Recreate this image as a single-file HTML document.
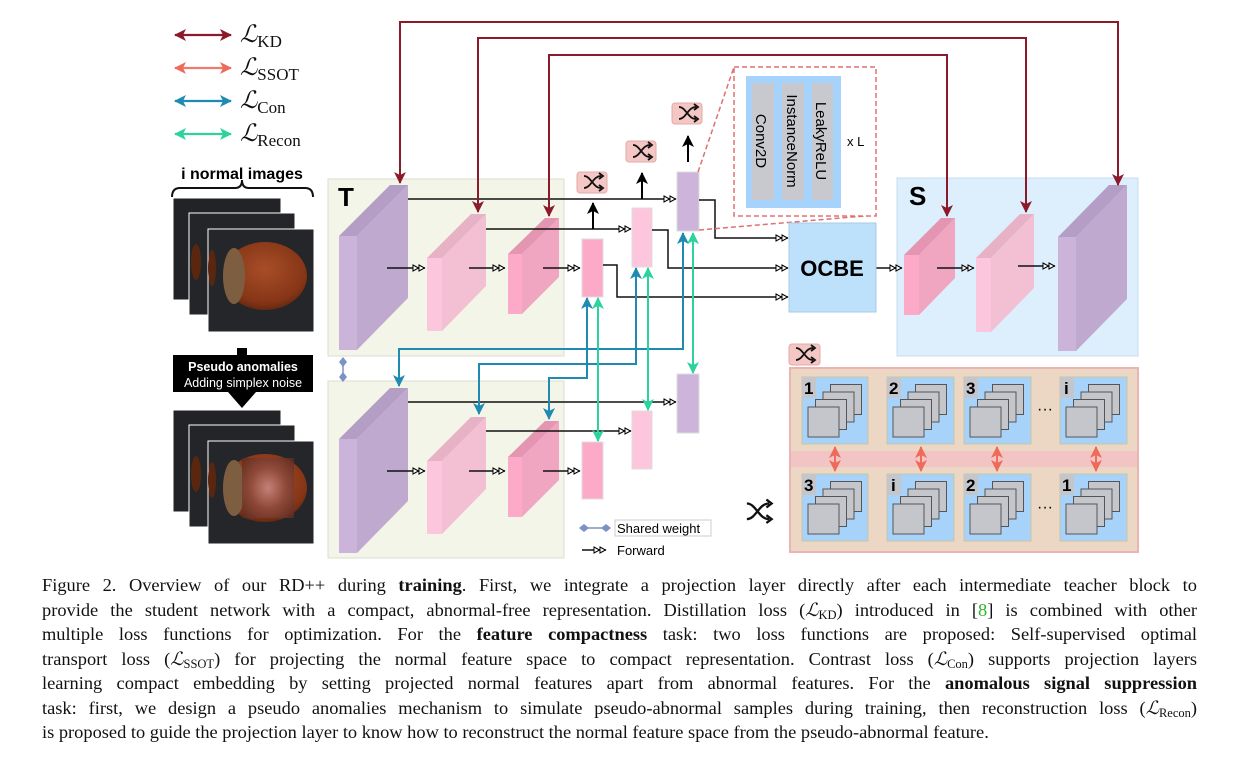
<!DOCTYPE html>
<html><head><meta charset="utf-8"><style>
body{margin:0;background:#fff;width:1247px;height:780px;overflow:hidden;position:relative;font-family:"Liberation Sans",sans-serif}
svg{position:absolute;left:0;top:0}
.cap{position:absolute;left:42px;width:1155px;font-family:"Liberation Serif",serif;font-size:18.4px;color:#111;white-space:nowrap}
.j{text-align:justify;text-align-last:justify;white-space:normal}
.m{font-style:italic}
sub{font-size:12.5px;vertical-align:-3px;line-height:0}
</style></head><body>
<svg width="1247" height="570" viewBox="0 0 1247 570" font-family="Liberation Sans, sans-serif">
<defs>
<marker id="ff" markerUnits="userSpaceOnUse" markerWidth="16" markerHeight="10" refX="13" refY="4" orient="auto"><path d="M1,1 L6.5,4 L1,7 Z M7,1 L12.5,4 L7,7 Z" fill="#fff" stroke="#000" stroke-width="1"/></marker>
<marker id="kd" markerUnits="userSpaceOnUse" markerWidth="14" markerHeight="14" refX="11" refY="6" orient="auto-start-reverse"><path d="M0,0 L12,6 L0,12 L3,6 Z" fill="#8b1a2a"/></marker>
<marker id="ss" markerUnits="userSpaceOnUse" markerWidth="14" markerHeight="14" refX="11" refY="6" orient="auto-start-reverse"><path d="M0,0 L12,6 L0,12 L3,6 Z" fill="#ee6b5b"/></marker>
<marker id="cn" markerUnits="userSpaceOnUse" markerWidth="14" markerHeight="14" refX="11" refY="6" orient="auto-start-reverse"><path d="M0,0 L12,6 L0,12 L3,6 Z" fill="#1f8bb2"/></marker>
<marker id="rc" markerUnits="userSpaceOnUse" markerWidth="14" markerHeight="14" refX="11" refY="6" orient="auto-start-reverse"><path d="M0,0 L12,6 L0,12 L3,6 Z" fill="#2dd39f"/></marker>
<marker id="bk" markerUnits="userSpaceOnUse" markerWidth="14" markerHeight="14" refX="11" refY="6" orient="auto"><path d="M0,0 L12,6 L0,12 L3,6 Z" fill="#000"/></marker>
<marker id="dm" markerUnits="userSpaceOnUse" markerWidth="10" markerHeight="10" refX="5" refY="5" orient="auto"><path d="M0,5 L5,1 L10,5 L5,9 Z" fill="#7b93c4"/></marker>
<g id="shuf"><path d="M3,5 C10,5 12,17 20,17 M3,17 C10,17 12,5 20,5" fill="none" stroke="#111" stroke-width="1.8"/><path d="M18,2 L22,5 L18,8 M18,14 L22,17 L18,20" fill="none" stroke="#111" stroke-width="1.8"/></g>
<radialGradient id="nut" cx="0.5" cy="0.4" r="0.7"><stop offset="0" stop-color="#a84e28"/><stop offset="0.7" stop-color="#853516"/><stop offset="1" stop-color="#4a1d0c"/></radialGradient>
<radialGradient id="noise" cx="0.5" cy="0.5" r="0.7"><stop offset="0" stop-color="#c98a84"/><stop offset="0.5" stop-color="#8d4a3c"/><stop offset="1" stop-color="#5a2a20"/></radialGradient>
</defs>

<g stroke-width="2.2">
<line x1="175" y1="35" x2="231" y2="35" stroke="#8b1a2a" marker-start="url(#kd)" marker-end="url(#kd)"/>
<line x1="175" y1="68" x2="231" y2="68" stroke="#ee7b6b" marker-start="url(#ss)" marker-end="url(#ss)"/>
<line x1="175" y1="101" x2="231" y2="101" stroke="#1f8bb2" marker-start="url(#cn)" marker-end="url(#cn)"/>
<line x1="175" y1="134" x2="231" y2="134" stroke="#2dd39f" marker-start="url(#rc)" marker-end="url(#rc)"/>
</g>
<g font-family="Liberation Serif, serif" fill="#111">
<text x="240" y="42" font-size="24" font-style="italic">ℒ<tspan font-size="17" font-style="normal" dy="5">KD</tspan></text>
<text x="240" y="75" font-size="24" font-style="italic">ℒ<tspan font-size="17" font-style="normal" dy="5">SSOT</tspan></text>
<text x="240" y="108" font-size="24" font-style="italic">ℒ<tspan font-size="17" font-style="normal" dy="5">Con</tspan></text>
<text x="240" y="141" font-size="24" font-style="italic">ℒ<tspan font-size="17" font-style="normal" dy="5">Recon</tspan></text>
</g>
<text x="242" y="179" font-size="16" font-weight="bold" text-anchor="middle">i normal images</text>
<path d="M172,197 Q172,188 180,188 L235,188 Q242,188 242,180 Q242,188 249,188 L305,188 Q313,188 313,197" fill="none" stroke="#111" stroke-width="2"/>

<rect x="173" y="198" width="108" height="102" fill="#222327" stroke="#fff"/>
<rect x="189" y="213" width="106" height="102" fill="#242529" stroke="#fff"/>
<ellipse cx="196" cy="262" rx="5" ry="18" fill="#5a2610"/>
<rect x="208" y="229" width="106" height="103" fill="#25262a" stroke="#fff"/>
<ellipse cx="212" cy="268" rx="4" ry="18" fill="#5a2610"/>
<ellipse cx="265" cy="276" rx="42" ry="34" fill="url(#nut)"/>
<ellipse cx="234" cy="276" rx="11" ry="28" fill="#7e5e40"/>
<rect x="173" y="355" width="140" height="37" fill="#000"/>
<text x="243" y="371" font-size="12.5" font-weight="bold" fill="#fff" text-anchor="middle">Pseudo anomalies</text>
<text x="243" y="387" font-size="12.5" fill="#fff" text-anchor="middle">Adding simplex noise</text>
<rect x="237" y="348" width="10" height="8" fill="#000"/>
<path d="M228,392 L256,392 L242,408 Z" fill="#000"/>
<rect x="173" y="410" width="108" height="102" fill="#222327" stroke="#fff"/>
<rect x="189" y="425" width="106" height="102" fill="#242529" stroke="#fff"/>
<ellipse cx="196" cy="474" rx="5" ry="18" fill="#5a2610"/>
<rect x="208" y="441" width="106" height="103" fill="#25262a" stroke="#fff"/>
<ellipse cx="212" cy="480" rx="4" ry="18" fill="#5a2610"/>
<ellipse cx="265" cy="488" rx="42" ry="34" fill="url(#nut)"/>
<ellipse cx="234" cy="488" rx="11" ry="28" fill="#7e5e40"/>
<rect x="242" y="458" width="52" height="60" fill="url(#noise)" opacity="0.85"/>

<rect x="328" y="179" width="236" height="177" fill="#f3f5e8" stroke="#dcdcd0"/>
<rect x="328" y="381" width="236" height="177" fill="#f3f5e8" stroke="#dcdcd0"/>
<text x="338" y="206" font-size="26" font-weight="bold">T</text>
<rect x="897" y="178" width="241" height="178" fill="#ddeefc" stroke="#c8dcee"/>
<text x="909" y="205" font-size="26" font-weight="bold">S</text>

<g>
<rect x="339" y="236" width="18" height="114" fill="#cbb3d9"/><polygon points="339,236 390,185 408,185 357,236" fill="#b59ec5"/><polygon points="357,236 408,185 408,298 357,350" fill="#c0a9cf"/>
<rect x="427" y="258" width="15" height="73" fill="#fcc6dc"/><polygon points="427,258 471,214 486,214 442,258" fill="#e8b2c6"/><polygon points="442,258 486,214 486,286 442,331" fill="#f2bfd3"/>
<rect x="508" y="254" width="14" height="60" fill="#fcaac8"/><polygon points="508,254 545,218 559,218 522,254" fill="#e495b1"/><polygon points="522,254 559,218 559,277 522,314" fill="#f0a5c0"/>
<rect x="339" y="439" width="18" height="114" fill="#cbb3d9"/><polygon points="339,439 390,388 408,388 357,439" fill="#b59ec5"/><polygon points="357,439 408,388 408,501 357,553" fill="#c0a9cf"/>
<rect x="427" y="461" width="15" height="73" fill="#fcc6dc"/><polygon points="427,461 471,417 486,417 442,461" fill="#e8b2c6"/><polygon points="442,461 486,417 486,489 442,534" fill="#f2bfd3"/>
<rect x="508" y="457" width="14" height="60" fill="#fcaac8"/><polygon points="508,457 545,421 559,421 522,457" fill="#e495b1"/><polygon points="522,457 559,421 559,480 522,517" fill="#f0a5c0"/>
<rect x="904" y="255" width="15" height="60" fill="#fcaac8"/><polygon points="904,255 941,218 955,218 919,255" fill="#e495b1"/><polygon points="919,255 955,218 955,278 919,315" fill="#f0a5c0"/>
<rect x="976" y="258" width="15" height="74" fill="#fcc6dc"/><polygon points="976,258 1020,214 1034,214 991,258" fill="#e8b2c6"/><polygon points="991,258 1034,214 1034,288 991,332" fill="#f2bfd3"/>
<rect x="1058" y="237" width="18" height="114" fill="#cbb3d9"/><polygon points="1058,237 1109,185 1127,185 1076,237" fill="#b59ec5"/><polygon points="1076,237 1127,185 1127,299 1076,351" fill="#c0a9cf"/>
</g>

<g stroke="#ddd" stroke-width="1">
<rect x="582" y="239" width="21" height="58" fill="#fdaac9"/>
<rect x="632" y="208" width="20" height="59" fill="#fdc6dc"/>
<rect x="677" y="172" width="22" height="59" fill="#cdb4da"/>
<rect x="582" y="442" width="21" height="57" fill="#fdaac9"/>
<rect x="632" y="411" width="20" height="58" fill="#fdc6dc"/>
<rect x="677" y="374" width="22" height="59" fill="#cdb4da"/>
</g>

<g stroke="#111" stroke-width="1.5" fill="none">
<line x1="387" y1="268" x2="425" y2="268" marker-end="url(#ff)"/>
<line x1="469" y1="268" x2="505" y2="268" marker-end="url(#ff)"/>
<line x1="543" y1="268" x2="580" y2="268" marker-end="url(#ff)"/>
<line x1="408" y1="199" x2="676" y2="199" marker-end="url(#ff)"/>
<line x1="486" y1="229" x2="631" y2="229" marker-end="url(#ff)"/>
<line x1="387" y1="471" x2="425" y2="471" marker-end="url(#ff)"/>
<line x1="469" y1="471" x2="505" y2="471" marker-end="url(#ff)"/>
<line x1="543" y1="471" x2="580" y2="471" marker-end="url(#ff)"/>
<line x1="408" y1="402" x2="676" y2="402" marker-end="url(#ff)"/>
<line x1="486" y1="431" x2="631" y2="431" marker-end="url(#ff)"/>
<path d="M699,200 H715 V238 H788" marker-end="url(#ff)"/>
<path d="M652,230 H668 V268 H788" marker-end="url(#ff)"/>
<path d="M603,265 H617 V297 H788" marker-end="url(#ff)"/>
<line x1="876" y1="268" x2="902" y2="268" marker-end="url(#ff)"/>
<line x1="937" y1="268" x2="974" y2="268" marker-end="url(#ff)"/>
<line x1="1018" y1="266" x2="1055" y2="266" marker-end="url(#ff)"/>
</g>
<g stroke="#000" stroke-width="2">
<line x1="593" y1="229" x2="593" y2="203" marker-end="url(#bk)"/>
<line x1="642" y1="199" x2="642" y2="173" marker-end="url(#bk)"/>
<line x1="688" y1="162" x2="688" y2="136" marker-end="url(#bk)"/>
</g>

<g>
<rect x="577" y="172" width="30" height="21" rx="3" fill="#f4c7c5" stroke="#e3aaa8"/><use href="#shuf" transform="translate(581,171)"/>
<rect x="626" y="141" width="30" height="21" rx="3" fill="#f4c7c5" stroke="#e3aaa8"/><use href="#shuf" transform="translate(630,140)"/>
<rect x="672" y="103" width="30" height="21" rx="3" fill="#f4c7c5" stroke="#e3aaa8"/><use href="#shuf" transform="translate(676,102)"/>
<rect x="789" y="344" width="31" height="21" rx="3" fill="#f4c7c5" stroke="#e3aaa8"/><use href="#shuf" transform="translate(793,343)"/>
<use href="#shuf" transform="translate(743,497) scale(1.3)"/>
</g>

<line x1="698" y1="172" x2="734" y2="67" stroke="#e07070" stroke-width="1.5" stroke-dasharray="5,3"/>
<line x1="699" y1="230" x2="876" y2="215" stroke="#e07070" stroke-width="1.5" stroke-dasharray="5,3"/>
<rect x="734" y="67" width="142" height="149" fill="#fff" stroke="#e07070" stroke-width="1.5" stroke-dasharray="5,3"/>
<rect x="746" y="76" width="95" height="132" fill="#a6d3fb"/>
<rect x="752" y="83" width="22" height="117" fill="#c8c9ce"/>
<rect x="782" y="83" width="22" height="117" fill="#c8c9ce"/>
<rect x="812" y="83" width="21" height="117" fill="#c8c9ce"/>
<text transform="translate(756,141) rotate(90)" font-size="15" text-anchor="middle">Conv2D</text>
<text transform="translate(787,141) rotate(90)" font-size="15" text-anchor="middle">InstanceNorm</text>
<text transform="translate(816,141) rotate(90)" font-size="15" text-anchor="middle">LeakyReLU</text>
<text x="847" y="146" font-size="13">x L</text>

<rect x="789" y="223" width="87" height="89" fill="#bde0fb" stroke="#a9cbe6"/>
<text x="832" y="276" font-size="22" font-weight="bold" text-anchor="middle">OCBE</text>

<g stroke="#8b1a2a" stroke-width="2" fill="none">
<path d="M400,183 V22 H1118 V185" marker-start="url(#kd)" marker-end="url(#kd)"/>
<path d="M478,212 V38 H1026 V212" marker-start="url(#kd)" marker-end="url(#kd)"/>
<path d="M549,216 V55 H947 V216" marker-start="url(#kd)" marker-end="url(#kd)"/>
</g>
<g stroke="#1f8bb2" stroke-width="2" fill="none">
<path d="M683,233 V349 H399 V386" marker-start="url(#cn)" marker-end="url(#cn)"/>
<path d="M636,268 V364 H479 V414" marker-start="url(#cn)" marker-end="url(#cn)"/>
<path d="M587,298 V378 H549 V419" marker-start="url(#cn)" marker-end="url(#cn)"/>
</g>
<g stroke="#2dd39f" stroke-width="2" fill="none">
<line x1="693" y1="233" x2="693" y2="373" marker-start="url(#rc)" marker-end="url(#rc)"/>
<line x1="648" y1="268" x2="648" y2="410" marker-start="url(#rc)" marker-end="url(#rc)"/>
<line x1="598" y1="298" x2="598" y2="441" marker-start="url(#rc)" marker-end="url(#rc)"/>
</g>

<line x1="343" y1="362" x2="343" y2="377" stroke="#7b93c4" stroke-width="1.5" marker-start="url(#dm)" marker-end="url(#dm)"/>
<line x1="584" y1="528" x2="606" y2="528" stroke="#7b93c4" stroke-width="1.5" marker-start="url(#dm)" marker-end="url(#dm)"/>
<rect x="615" y="520" width="96" height="16" fill="#fff" stroke="#ccc"/>
<text x="617" y="533" font-size="13">Shared weight</text>
<line x1="582" y1="550" x2="606" y2="550" stroke="#111" stroke-width="1.5" marker-end="url(#ff)"/>
<text x="617" y="555" font-size="13">Forward</text>

<rect x="790" y="368" width="348" height="184" fill="#ecd6c4" stroke="#eab4b4" stroke-width="2"/>
<rect x="791" y="451" width="346" height="16" fill="#f2c4c4"/>
<g font-weight="bold" font-size="17">
<g transform="translate(802,377)"><rect width="66" height="67" fill="#a7d3fb" stroke="#c9c6a4"/><g fill="#c5c6cc" stroke="#555"><rect x="28.5" y="7.5" width="31" height="30"/><rect x="21" y="15" width="31" height="30"/><rect x="13.5" y="22.5" width="31" height="30"/><rect x="6" y="30" width="31" height="30"/></g><rect width="14" height="21" fill="#c5c6cc"/><text x="2" y="17">1</text></g>
<g transform="translate(887,377)"><rect width="67" height="67" fill="#a7d3fb" stroke="#c9c6a4"/><g fill="#c5c6cc" stroke="#555"><rect x="28.5" y="7.5" width="31" height="30"/><rect x="21" y="15" width="31" height="30"/><rect x="13.5" y="22.5" width="31" height="30"/><rect x="6" y="30" width="31" height="30"/></g><rect width="14" height="21" fill="#c5c6cc"/><text x="2" y="17">2</text></g>
<g transform="translate(964,377)"><rect width="67" height="67" fill="#a7d3fb" stroke="#c9c6a4"/><g fill="#c5c6cc" stroke="#555"><rect x="28.5" y="7.5" width="31" height="30"/><rect x="21" y="15" width="31" height="30"/><rect x="13.5" y="22.5" width="31" height="30"/><rect x="6" y="30" width="31" height="30"/></g><rect width="14" height="21" fill="#c5c6cc"/><text x="2" y="17">3</text></g>
<g transform="translate(1060,377)"><rect width="67" height="67" fill="#a7d3fb" stroke="#c9c6a4"/><g fill="#c5c6cc" stroke="#555"><rect x="28.5" y="7.5" width="31" height="30"/><rect x="21" y="15" width="31" height="30"/><rect x="13.5" y="22.5" width="31" height="30"/><rect x="6" y="30" width="31" height="30"/></g><rect width="14" height="21" fill="#c5c6cc"/><text x="4" y="17">i</text></g>
<g transform="translate(802,474)"><rect width="66" height="67" fill="#a7d3fb" stroke="#c9c6a4"/><g fill="#c5c6cc" stroke="#555"><rect x="28.5" y="7.5" width="31" height="30"/><rect x="21" y="15" width="31" height="30"/><rect x="13.5" y="22.5" width="31" height="30"/><rect x="6" y="30" width="31" height="30"/></g><rect width="14" height="21" fill="#c5c6cc"/><text x="2" y="17">3</text></g>
<g transform="translate(887,474)"><rect width="67" height="67" fill="#a7d3fb" stroke="#c9c6a4"/><g fill="#c5c6cc" stroke="#555"><rect x="28.5" y="7.5" width="31" height="30"/><rect x="21" y="15" width="31" height="30"/><rect x="13.5" y="22.5" width="31" height="30"/><rect x="6" y="30" width="31" height="30"/></g><rect width="14" height="21" fill="#c5c6cc"/><text x="4" y="17">i</text></g>
<g transform="translate(964,474)"><rect width="67" height="67" fill="#a7d3fb" stroke="#c9c6a4"/><g fill="#c5c6cc" stroke="#555"><rect x="28.5" y="7.5" width="31" height="30"/><rect x="21" y="15" width="31" height="30"/><rect x="13.5" y="22.5" width="31" height="30"/><rect x="6" y="30" width="31" height="30"/></g><rect width="14" height="21" fill="#c5c6cc"/><text x="2" y="17">2</text></g>
<g transform="translate(1060,474)"><rect width="67" height="67" fill="#a7d3fb" stroke="#c9c6a4"/><g fill="#c5c6cc" stroke="#555"><rect x="28.5" y="7.5" width="31" height="30"/><rect x="21" y="15" width="31" height="30"/><rect x="13.5" y="22.5" width="31" height="30"/><rect x="6" y="30" width="31" height="30"/></g><rect width="14" height="21" fill="#c5c6cc"/><text x="2" y="17">1</text></g>
</g>
<text x="1045" y="414" font-size="16" text-anchor="middle">···</text>
<text x="1045" y="512" font-size="16" text-anchor="middle">···</text>
<g stroke="#ee6b5b" stroke-width="2">
<line x1="835" y1="447" x2="835" y2="471" marker-start="url(#ss)" marker-end="url(#ss)"/>
<line x1="921" y1="447" x2="921" y2="471" marker-start="url(#ss)" marker-end="url(#ss)"/>
<line x1="997" y1="447" x2="997" y2="471" marker-start="url(#ss)" marker-end="url(#ss)"/>
<line x1="1096" y1="447" x2="1096" y2="471" marker-start="url(#ss)" marker-end="url(#ss)"/>
</g>
</svg>

<div class="cap j" style="top:575px">Figure 2. Overview of our RD++ during <b>training</b>. First, we integrate a projection layer directly after each intermediate teacher block to</div>
<div class="cap j" style="top:599.5px">provide the student network with a compact, abnormal-free representation. Distillation loss (<span class="m">ℒ</span><sub>KD</sub>) introduced in [<span style="color:#2bb52b">8</span>] is combined with other</div>
<div class="cap j" style="top:624px">multiple loss functions for optimization. For the <b>feature compactness</b> task: two loss functions are proposed: Self-supervised optimal</div>
<div class="cap j" style="top:648.5px">transport loss (<span class="m">ℒ</span><sub>SSOT</sub>) for projecting the normal feature space to compact representation. Contrast loss (<span class="m">ℒ</span><sub>Con</sub>) supports projection layers</div>
<div class="cap j" style="top:673px">learning compact embedding by setting projected normal features apart from abnormal features. For the <b>anomalous signal suppression</b></div>
<div class="cap j" style="top:697.5px">task: first, we design a pseudo anomalies mechanism to simulate pseudo-abnormal samples during training, then reconstruction loss (<span class="m">ℒ</span><sub>Recon</sub>)</div>
<div class="cap" style="top:722px">is proposed to guide the projection layer to know how to reconstruct the normal feature space from the pseudo-abnormal feature.</div>
</body></html>
